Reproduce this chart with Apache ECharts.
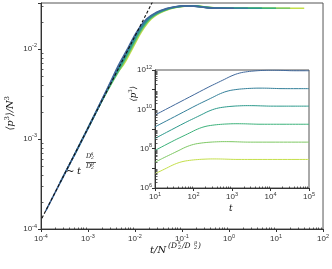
<!DOCTYPE html>
<html><head><meta charset="utf-8">
<script src="https://cdn.jsdelivr.net/npm/echarts@6/dist/echarts.min.js"></script>
<style>html,body{margin:0;padding:0;background:#fff}#c{width:332px;height:269px}</style>
</head><body><div id="c"></div>
<script>
// ---- data (log10 values) ----
const curveColors = ['#40689b', '#34809a', '#2c9a8c', '#3cb27a', '#7ec864', '#c4df4a'];
// main panel: [log10(t/N^a), log10(<p^3>/N^3)]
const main0 = [[-3.9,-3.80],[-3.5,-3.39],[-3.0,-2.88],[-2.525,-2.37],[-2.35,-2.18],[-2.15,-1.99],[-1.95,-1.80],[-1.75,-1.665],[-1.55,-1.595],[-1.35,-1.555],[-1.15,-1.532],[-0.95,-1.522],[-0.75,-1.525],[-0.55,-1.537],[-0.35,-1.547],[-0.05,-1.548],[0.1,-1.548]];
const main1 = [[-3.6,-3.49],[-3.0,-2.88],[-2.515,-2.37],[-2.33,-2.18],[-2.13,-1.99],[-1.93,-1.80],[-1.73,-1.665],[-1.53,-1.595],[-1.33,-1.555],[-1.13,-1.532],[-0.93,-1.522],[-0.73,-1.525],[-0.53,-1.537],[-0.33,-1.547],[-0.03,-1.548],[0.4,-1.548]];
const main2 = [[-3.3,-3.19],[-3.0,-2.88],[-2.505,-2.37],[-2.31,-2.18],[-2.11,-1.99],[-1.91,-1.80],[-1.71,-1.665],[-1.51,-1.595],[-1.31,-1.555],[-1.11,-1.532],[-0.91,-1.522],[-0.71,-1.525],[-0.51,-1.537],[-0.31,-1.547],[-0.01,-1.548],[0.7,-1.548]];
const main3 = [[-3.0,-2.88],[-2.495,-2.37],[-2.29,-2.18],[-2.09,-1.99],[-1.89,-1.80],[-1.69,-1.665],[-1.49,-1.595],[-1.29,-1.555],[-1.09,-1.532],[-0.89,-1.522],[-0.69,-1.525],[-0.49,-1.537],[-0.29,-1.547],[0.01,-1.548],[0.5,-1.548],[1.0,-1.548]];
const main4 = [[-2.7,-2.57],[-2.485,-2.37],[-2.27,-2.18],[-2.07,-1.99],[-1.87,-1.80],[-1.67,-1.665],[-1.47,-1.595],[-1.27,-1.555],[-1.07,-1.532],[-0.87,-1.522],[-0.67,-1.525],[-0.47,-1.537],[-0.27,-1.547],[0.03,-1.548],[0.5,-1.548],[1.3,-1.548]];
const main5 = [[-2.4,-2.27],[-2.25,-2.18],[-2.05,-1.99],[-1.85,-1.80],[-1.65,-1.665],[-1.45,-1.595],[-1.25,-1.555],[-1.05,-1.532],[-0.85,-1.522],[-0.65,-1.525],[-0.45,-1.537],[-0.25,-1.547],[0.05,-1.548],[0.5,-1.548],[1.0,-1.548],[1.6,-1.548]];
const powerLaw = [[-3.98,-3.88],[-1.63,-1.48]];
// inset: [log10 t, log10 <p^3>]
const inset0 = [[1.0,9.71],[1.4,10.12],[1.9,10.63],[2.4,11.14],[2.6,11.33],[2.8,11.52],[3.0,11.71],[3.2,11.845],[3.4,11.915],[3.6,11.955],[3.8,11.978],[4.0,11.988],[4.2,11.985],[4.4,11.973],[4.6,11.963],[4.9,11.962],[5.0,11.962]];
const inset1 = [[1.0,9.11],[1.6,9.72],[2.1,10.23],[2.3,10.42],[2.5,10.61],[2.7,10.80],[2.9,10.935],[3.1,11.005],[3.3,11.045],[3.5,11.068],[3.7,11.078],[3.9,11.075],[4.1,11.063],[4.3,11.053],[4.6,11.052],[5.0,11.052]];
const inset2 = [[1.0,8.52],[1.3,8.83],[1.8,9.34],[2.0,9.53],[2.2,9.72],[2.4,9.91],[2.6,10.045],[2.8,10.115],[3.0,10.155],[3.2,10.178],[3.4,10.188],[3.6,10.185],[3.8,10.173],[4.0,10.163],[4.3,10.162],[5.0,10.162]];
const inset3 = [[1.0,7.91],[1.5,8.42],[1.7,8.61],[1.9,8.80],[2.1,8.99],[2.3,9.125],[2.5,9.195],[2.7,9.235],[2.9,9.258],[3.1,9.268],[3.3,9.265],[3.5,9.253],[3.7,9.243],[4.0,9.242],[5.0,9.242]];
const inset4 = [[1.0,7.31],[1.2,7.51],[1.4,7.70],[1.6,7.89],[1.8,8.08],[2.0,8.215],[2.2,8.285],[2.4,8.325],[2.6,8.348],[2.8,8.358],[3.0,8.355],[3.2,8.343],[3.4,8.333],[3.7,8.332],[5.0,8.332]];
const inset5 = [[1.0,6.73],[1.1,6.82],[1.3,7.01],[1.5,7.20],[1.7,7.335],[1.9,7.405],[2.1,7.445],[2.3,7.468],[2.5,7.478],[2.7,7.475],[2.9,7.463],[3.1,7.453],[3.4,7.452],[5.0,7.452]];
const mainX = {min: -4, max: 2};
const mainY = {min: -4, max: -1.49};
const insetX = {min: 1, max: 5};
const insetY = {min: 6, max: 12};
const insetYLabels = [6, 8, 10, 12];

// ---- build ----
const P = e => Math.pow(10, e);
const toVal = arr => arr.map(p => [P(p[0]), P(p[1])]);
const mainCurves = [main0, main1, main2, main3, main4, main5];
const insetCurves = [inset0, inset1, inset2, inset3, inset4, inset5];
const FONT = 'Liberation Sans';
const SERIF = 'DejaVu Serif';
const AX = '#333';
const rich = {
  b: {fontSize: 8, fontFamily: FONT, color: '#333'},
  s: {fontSize: 5.5, fontFamily: FONT, color: '#333', padding: [0, 0, 6, 0]}
};
function fmt(allowed) {
  return function (v) {
    const l = Math.log10(v), e = Math.round(l);
    if (Math.abs(l - e) > 1e-6) return '';
    if (allowed && allowed.indexOf(e) < 0) return '';
    return '{b|10}{s|' + e + '}';
  };
}
function axisCommon(extra) {
  return Object.assign({
    type: 'log', logBase: 10,
    axisLine: {show: true, onZero: false, lineStyle: {color: AX, width: 1}},
    axisTick: {show: true, length: 3, inside: false, lineStyle: {color: AX}},
    minorTick: {show: false},
    splitLine: {show: false},
    minorSplitLine: {show: false}
  }, extra);
}
// log-spaced minor tick positions (axis decoration)
function minorVals(lo, hi) {
  const out = [];
  for (let e = Math.floor(lo); e < Math.ceil(hi); e++)
    for (let m = 2; m <= 9; m++) { const v = m * P(e); if (v > P(lo) && v < P(hi)) out.push(v); }
  return out;
}
function minorSeries(xi, yi, isX, range, otherVal, z) {
  return {
    type: 'custom', xAxisIndex: xi, yAxisIndex: yi, clip: false, silent: true, z: z,
    data: minorVals(range.min, range.max).map(v => isX ? [v, otherVal] : [otherVal, v]),
    renderItem: function (params, api) {
      const p = api.coord([api.value(0), api.value(1)]);
      const x1 = Math.round(p[0]) + 0.5, y1 = Math.round(p[1]) + 0.5;
      return {type: 'line', shape: isX ? {x1: x1, y1: y1, x2: x1, y2: y1 - 2} : {x1: x1, y1: y1, x2: x1 + 2, y2: y1},
        style: {stroke: AX, lineWidth: 0.8}};
    }
  };
}
const series = [];
mainCurves.forEach((c, i) => series.push({
  type: 'line', xAxisIndex: 0, yAxisIndex: 0, data: toVal(c), smooth: 0.4,
  showSymbol: false, symbol: 'none', lineStyle: {color: curveColors[i], width: 1.6}, z: 3 + (5 - i)
}));
series.push({
  type: 'line', xAxisIndex: 0, yAxisIndex: 0, data: toVal(powerLaw), showSymbol: false, symbol: 'none',
  lineStyle: {color: '#111', width: 1.1, type: [3, 2]}, z: 20
});
insetCurves.forEach((c, i) => series.push({
  type: 'line', xAxisIndex: 1, yAxisIndex: 1, data: toVal(c), smooth: 0.4,
  showSymbol: false, symbol: 'none', lineStyle: {color: curveColors[i], width: 1}, z: 30
}));
series.push(minorSeries(0, 0, true, mainX, P(mainY.min), 21));
series.push(minorSeries(0, 0, false, mainY, P(mainX.min), 21));
series.push(minorSeries(1, 1, true, insetX, P(insetY.min), 31));
series.push(minorSeries(1, 1, false, insetY, P(insetX.min), 31));

const chart = echarts.init(document.getElementById('c'), null, {renderer: 'canvas'});
const it = {fontFamily: SERIF, fontStyle: 'italic', fill: '#111'};
function T(x, y, text, size, extra) {
  return {type: 'text', x: x, y: y, z: 50, style: Object.assign({text: text, fontSize: size}, it, extra || {})};
}
chart.setOption({
  backgroundColor: '#fff',
  animation: false,
  grid: [
    {left: 41, top: 3, right: 8, bottom: 40, show: true, borderColor: '#555', borderWidth: 1, backgroundColor: 'transparent'},
    {left: 155, top: 70, right: 23, bottom: 81, show: true, borderColor: '#555', borderWidth: 1, backgroundColor: '#fff', z: 25}
  ],
  xAxis: [
    axisCommon({gridIndex: 0, min: P(mainX.min), max: P(mainX.max),
      axisLabel: {formatter: fmt(), rich: rich, margin: 4}}),
    axisCommon({gridIndex: 1, min: P(insetX.min), max: P(insetX.max), z: 26,
      axisLabel: {formatter: fmt(), rich: rich, margin: 3}})
  ],
  yAxis: [
    axisCommon({gridIndex: 0, min: P(mainY.min), max: P(mainY.max),
      axisLabel: {formatter: fmt(), rich: rich, margin: 4}}),
    axisCommon({gridIndex: 1, min: P(insetY.min), max: P(insetY.max), z: 26,
      axisLabel: {formatter: fmt(insetYLabels), rich: rich, margin: 3}})
  ],
  series: series,
  graphic: [
    {type: 'text', left: 4, top: 96, rotation: Math.PI / 2, z: 50,
      style: {text: '{i|⟨p}{s|3}{i|⟩/N}{s|3}', rich: {
        i: {fontSize: 10, fontFamily: SERIF, fontStyle: 'italic', fill: '#111'},
        s: {fontSize: 6.5, fontFamily: SERIF, fill: '#111', padding: [0, 0, 6, 0]}}}},
    // x title: t/N^(D2^s/D2^p)
    T(150, 245, 't/N', 10),
    T(168, 242, '(D', 7.5),
    T(178, 240, 's', 5),
    T(178, 245, '2', 5),
    T(182, 242, '/D', 7.5),
    T(194, 240, 'p', 5),
    T(194, 245, '2', 5),
    T(198, 242, ')', 7.5),
    // inset titles
    T(229, 204, 't', 9),
    {type: 'text', left: 128, top: 86, rotation: Math.PI / 2, z: 50,
      style: {text: '{i|⟨p}{s|3}{i|⟩}', rich: {
        i: {fontSize: 8.5, fontFamily: SERIF, fontStyle: 'italic', fill: '#111'},
        s: {fontSize: 5.5, fontFamily: SERIF, fill: '#111', padding: [0, 0, 6, 0]}}}},
    // power-law annotation ~ t^(D2^s/D2^p)
    T(66, 166, '~', 10, {fontStyle: 'normal'}),
    T(77, 166, 't', 10),
    T(86, 153, 'D', 6.5),
    T(91, 151, 's', 4.5),
    T(91, 155, '2', 4.5),
    {type: 'line', shape: {x1: 86, y1: 162.5, x2: 96, y2: 162.5}, style: {stroke: '#111', lineWidth: 0.7}, z: 50},
    T(86, 163, 'D', 6.5),
    T(91, 161, 'p', 4.5),
    T(91, 165, '2', 4.5)
  ]
});
</script></body></html>
